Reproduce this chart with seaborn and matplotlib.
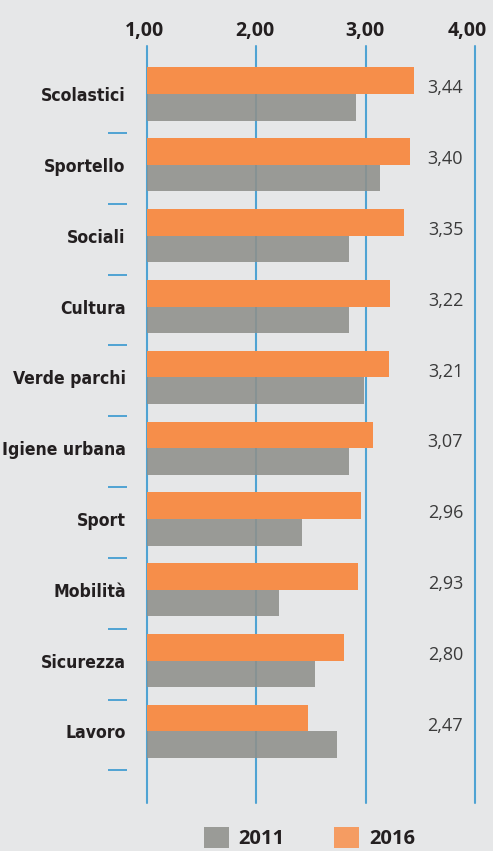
import matplotlib
matplotlib.use("Agg")
import matplotlib.pyplot as plt
from matplotlib.patches import Patch
from matplotlib.transforms import ScaledTranslation
import seaborn as sns
import pandas as pd

categories = ["Scolastici", "Sportello", "Sociali", "Cultura", "Verde parchi",
              "Igiene urbana", "Sport", "Mobilità", "Sicurezza", "Lavoro"]
values_2016 = [3.44, 3.40, 3.35, 3.22, 3.21, 3.07, 2.96, 2.93, 2.80, 2.47]
values_2011 = [2.91, 3.13, 2.85, 2.85, 2.98, 2.85, 2.42, 2.21, 2.54, 2.74]
years = ["2016", "2011"]
x_ticks = [1, 2, 3, 4]
x_tick_labels = ["1,00", "2,00", "3,00", "4,00"]

BG = "#e6e7e8"
ORANGE = "#f68e4a"
GREY_BAR = "#8f908b"
GREY_LEG = "#9a9b97"
BLUE = "#4fa3d3"
DARK = "#231f20"

sns.set_theme(style="white")
plt.rcParams["font.family"] = ["Open Sans", "DejaVu Sans"]

df = pd.DataFrame({
    "cat": categories * 2,
    "val": values_2016 + values_2011,
    "year": ["2016"] * len(categories) + ["2011"] * len(categories),
})

fig = plt.figure(figsize=(4.93, 8.51), dpi=100)
fig.patch.set_facecolor(BG)
ax = fig.add_axes([146.7 / 493, 1 - 803 / 851, (475.3 - 146.7) / 493, (803 - 46) / 851])
ax.set_facecolor(BG)

sns.barplot(data=df, y="cat", x="val", hue="year", hue_order=years, order=categories,
            palette={"2016": ORANGE, "2011": GREY_BAR}, orient="h", width=0.75,
            dodge=True, ax=ax, legend=False, zorder=2, linewidth=0, saturation=1)
for bar in ax.containers[1]:
    bar.set_alpha(0.88)

for xv in x_ticks:
    ax.axvline(xv, color=BLUE, lw=1.5, zorder=0, clip_on=False)

ax.set_xlim(1, 4)
ax.set_ylim(10.01, -0.678)
for s in ax.spines.values():
    s.set_visible(False)
ax.spines["left"].set_position(("outward", 14.4))

ax.xaxis.tick_top()
ax.set_xticks(x_ticks)
ax.set_xticklabels(x_tick_labels, fontsize=14, fontweight="bold", color=DARK,
                   family=["Open Sans", "DejaVu Sans"])
ax.tick_params(axis="x", length=0, pad=3.4)
shifts = [-2, -1, -1, -8]
for lab, dx in zip(ax.get_xticklabels(), shifts):
    lab.set_transform(lab.get_transform() + ScaledTranslation(dx / 100, 0, fig.dpi_scale_trans))

ax.set_yticks(range(len(categories)))
ax.set_yticklabels(categories, fontsize=12.6, fontweight="bold", color=DARK,
                   family=["DejaVu Sans"], fontstretch="condensed")
ax.tick_params(axis="y", which="major", length=0, pad=0.7)
ax.set_yticks([i + 0.55 for i in range(len(categories))], minor=True)
ax.tick_params(axis="y", which="minor", length=13.7, width=1.4, color=BLUE, left=True)
ax.set_xlabel("")
ax.set_ylabel("")

for i, v in enumerate(values_2016):
    ax.text(3.889, i - 0.08, f"{v:.2f}".replace(".", ","), ha="right", va="center",
            fontsize=13, color="#3a3a3a", family=["Open Sans", "DejaVu Sans"])

handles = [Patch(facecolor=GREY_LEG, edgecolor="none"), Patch(facecolor="#f59c62", edgecolor="none")]
leg = fig.legend(handles, ["2011", "2016"], loc="upper center",
                 bbox_to_anchor=(309.5 / 493, 1 - 817 / 851), ncol=2, frameon=False,
                 borderpad=0, handlelength=1.24, handleheight=1.24, handletextpad=0.5,
                 columnspacing=2.45, prop={"family": ["Open Sans", "DejaVu Sans"],
                                           "weight": "bold", "size": 14.5})
for t in leg.get_texts():
    t.set_color(DARK)

fig.savefig("out.png", dpi=100, facecolor=BG)
